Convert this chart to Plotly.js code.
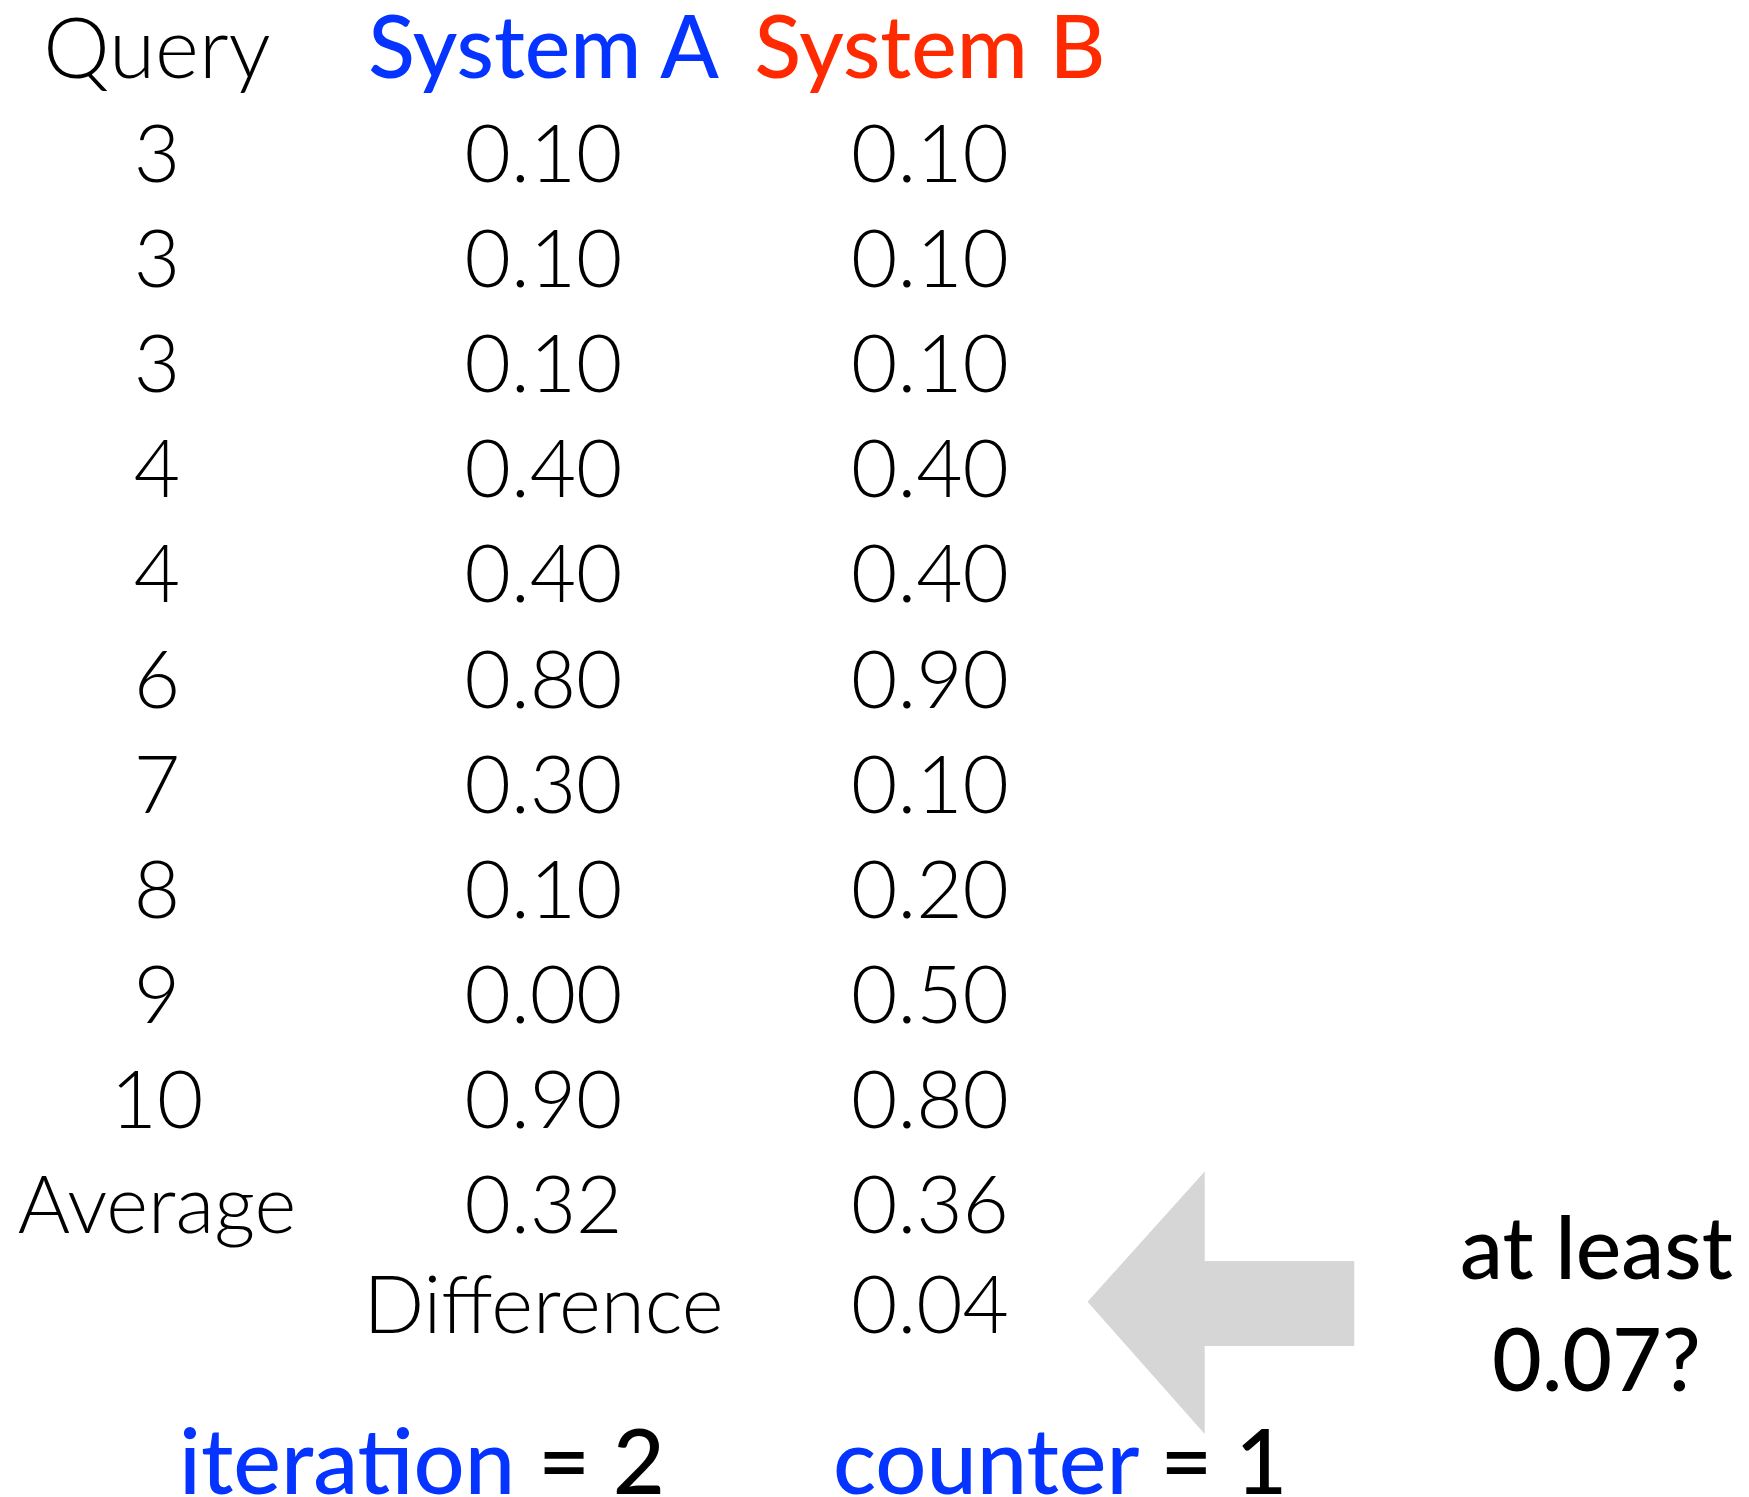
<!DOCTYPE html>
<html>
<head>
<meta charset="utf-8">
<script src="https://cdn.plot.ly/plotly-3.0.1.min.js"></script>
<style>html,body{margin:0;padding:0;background:#fff;}#chart{width:1749px;height:1497px;}</style>
</head>
<body>
<div id="chart"></div>
<script>
// ---- data ----
var headers = ['Query', 'System A', 'System B'];
var queries = ['3', '3', '3', '4', '4', '6', '7', '8', '9', '10'];
var systemA = [0.10, 0.10, 0.10, 0.40, 0.40, 0.80, 0.30, 0.10, 0.00, 0.90];
var systemB = [0.10, 0.10, 0.10, 0.40, 0.40, 0.90, 0.10, 0.20, 0.50, 0.80];
var averageLabel = 'Average';
var differenceLabel = 'Difference';
var thresholdText = 'at least<br>0.07?';
var iteration = 2;
var counter = 1;

// ---- derived ----
function mean(a){ var s=0; for (var i=0;i<a.length;i++) s+=a[i]; return s/a.length; }
var avgA = mean(systemA), avgB = mean(systemB);
var diff = avgB - avgA;

var rows = queries.map(function(_, i){ return i; });
var avgRow = queries.length;
var diffRow = queries.length + 0.95;
var headerRow = -1;

var BLUE = '#0533ff', RED = '#ff2a00';
var FONT = 'Lato, "Open Sans", sans-serif';

var light = {family: FONT, size: 80, color: '#000', weight: 300};

var traces = [
  { // headers
    x: [0, 1, 2], y: [headerRow, headerRow, headerRow],
    text: headers, mode: 'text', type: 'scatter', hoverinfo: 'none', cliponaxis: false,
    textfont: {family: FONT, size: [84, 86, 86], color: ['#000', BLUE, RED], weight: [300, 500, 500]}
  },
  { // query column
    x: rows.map(function(){return 0;}), y: rows, text: queries,
    mode: 'text', type: 'scatter', hoverinfo: 'none', textfont: light
  },
  { // system A
    x: rows.map(function(){return 1;}), y: rows,
    text: systemA.map(function(v){return v.toFixed(2);}),
    mode: 'text', type: 'scatter', hoverinfo: 'none', textfont: light
  },
  { // system B
    x: rows.map(function(){return 2;}), y: rows,
    text: systemB.map(function(v){return v.toFixed(2);}),
    mode: 'text', type: 'scatter', hoverinfo: 'none', textfont: light
  },
  { // average + difference
    x: [0, 1, 2, 1, 2], y: [avgRow, avgRow, avgRow, diffRow, diffRow],
    text: [averageLabel, avgA.toFixed(2), avgB.toFixed(2), differenceLabel, diff.toFixed(2)],
    mode: 'text', type: 'scatter', hoverinfo: 'none', textfont: light
  }
];

// column centres at px 157, 543, 930 ; rows at px 162 + 105.1*i
var colStep = 386.5, col0 = 157;
var rowStep = 105.1, row0 = 162;
var W = 1749, H = 1497;

var layout = {
  width: W, height: H,
  margin: {l: 0, r: 0, t: 0, b: 0},
  paper_bgcolor: '#fff', plot_bgcolor: '#fff',
  showlegend: false,
  xaxis: {range: [-col0/colStep, (W-col0)/colStep], visible: false, fixedrange: true},
  yaxis: {range: [(H-row0)/rowStep, -row0/rowStep], visible: false, fixedrange: true},
  shapes: [{
    type: 'path', xref: 'paper', yref: 'paper',
    path: 'M 0.6218 0.1304 L 0.6888 0.2174 L 0.6888 0.1577 L 0.7743 0.1577 L 0.7743 0.1008 L 0.6888 0.1008 L 0.6888 0.0421 Z',
    fillcolor: '#d6d6d6', line: {width: 0}
  }],
  annotations: [
    {xref: 'paper', yref: 'paper', x: 0.913, y: 0.1304, text: thresholdText, showarrow: false,
     xanchor: 'center', yanchor: 'middle', align: 'center',
     font: {family: FONT, size: 86, color: '#000', weight: 500}},
    {xref: 'paper', yref: 'paper', x: 0.241, y: -0.012, text: '<span style="color:' + BLUE + '">iteration</span> = ' + iteration,
     showarrow: false, xanchor: 'center', yanchor: 'bottom',
     font: {family: FONT, size: 90, color: '#000', weight: 500}},
    {xref: 'paper', yref: 'paper', x: 0.606, y: -0.012, text: '<span style="color:' + BLUE + '">counter</span> = ' + counter,
     showarrow: false, xanchor: 'center', yanchor: 'bottom',
     font: {family: FONT, size: 90, color: '#000', weight: 500}}
  ]
};

Plotly.newPlot('chart', traces, layout, {staticPlot: true, displayModeBar: false});
</script>
</body>
</html>
